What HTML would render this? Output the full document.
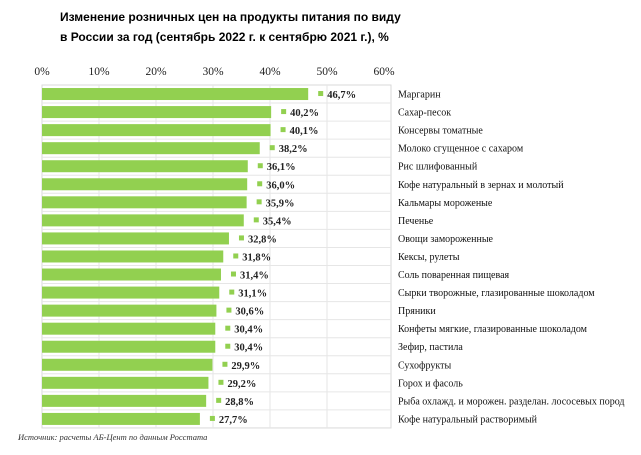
<!DOCTYPE html>
<html><head><meta charset="utf-8"><style>
body{margin:0;background:#fff;width:641px;height:450px;overflow:hidden}
</style></head><body>
<svg id="c" width="641" height="450" xmlns="http://www.w3.org/2000/svg">
<text x="60" y="21" font-family="Liberation Sans, sans-serif" font-weight="bold" font-size="12" fill="#000">Изменение розничных цен на продукты питания по виду</text>
<text x="60" y="41" font-family="Liberation Sans, sans-serif" font-weight="bold" font-size="12" fill="#000">в России за год (сентябрь 2022 г. к сентябрю 2021 г.), %</text>
<text x="18" y="440" font-family="Liberation Serif, serif" font-style="italic" font-size="8.5" fill="#333">Источник: расчеты АБ-Цент по данным Росстата</text>
<g id="g"></g>
</svg>
<script>
const categories=["Маргарин","Сахар-песок","Консервы томатные","Молоко сгущенное с сахаром","Рис шлифованный","Кофе натуральный в зернах и молотый","Кальмары мороженые","Печенье","Овощи замороженные","Кексы, рулеты","Соль поваренная пищевая","Сырки творожные, глазированные шоколадом","Пряники","Конфеты мягкие, глазированные шоколадом","Зефир, пастила","Сухофрукты","Горох и фасоль","Рыба охлажд. и морожен. разделан. лососевых пород","Кофе натуральный растворимый"];
const values=[46.7,40.2,40.1,38.2,36.1,36.0,35.9,35.4,32.8,31.8,31.4,31.1,30.6,30.4,30.4,29.9,29.2,28.8,27.7];
const ticks=[0,10,20,30,40,50,60];
const NS="http://www.w3.org/2000/svg";
const gEl=document.getElementById('g');
const x0=42,x1=384,plotTop=85,rowH=18.05;
const xs=v=>x0+(v-0)/(60-0)*(x1-x0);
const yc=i=>plotTop+rowH*(i+0.5);
function mk(t,a){const e=document.createElementNS(NS,t);for(const k in a)e.setAttribute(k,a[k]);gEl.appendChild(e);return e;}
const plotBottom=plotTop+rowH*categories.length;
let box=mk('rect',{x:x0,y:plotTop,width:391-x0,height:plotBottom-plotTop,fill:'none',stroke:'#d9d9d9','stroke-width':1});


ticks.forEach(t=>{
  if(t>0&&t<60){let l=mk('line',{x1:xs(t),x2:xs(t),y1:plotTop,y2:plotBottom,stroke:'#e6e6e6','stroke-width':1});
  
  }
  let tx=mk('text',{x:xs(t),y:75,'text-anchor':'middle','font-family':'Liberation Serif, serif','font-size':'11.5',fill:'#222'});
  tx.textContent=t+'%';
  
  
});
categories.forEach((c,i)=>{
  if(i>0){let l=mk('line',{x1:x0,x2:391,y1:plotTop+rowH*i,y2:plotTop+rowH*i,stroke:'#e6e6e6','stroke-width':1});
  
  }
  const v=values[i];
  let b=mk('rect',{x:x0,y:yc(i)-6,width:xs(v)-x0,height:12,fill:'#92d050'});
  
  
  let m=mk('rect',{x:xs(v)+10,y:yc(i)-3,width:5,height:5,fill:'#92d050'});
  
  
  let vl=mk('text',{x:xs(v)+19,y:yc(i)+4,'font-family':'Liberation Serif, serif','font-weight':'bold','font-size':'10.5',fill:'#222'});
  vl.textContent=v.toFixed(1).replace('.',',')+'%';
  
  
  let cl=mk('text',{x:398,y:yc(i)+3.5,'font-family':'Liberation Serif, serif','font-size':'10',fill:'#111'});
  cl.textContent=c;
  
  
});
</script>
</body></html>
